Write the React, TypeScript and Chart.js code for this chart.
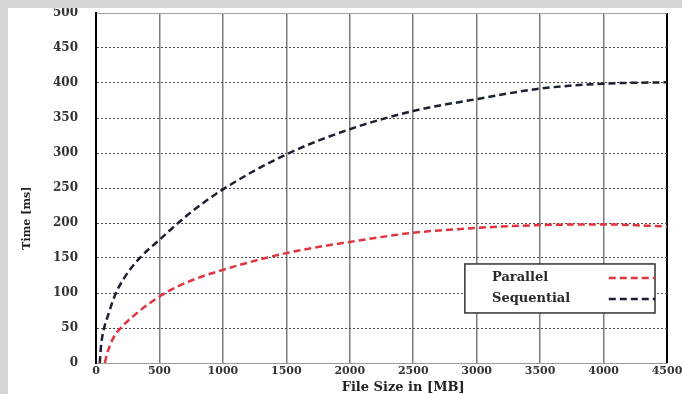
import React, { useEffect, useRef } from "react";
import { Chart, registerables } from "chart.js";

Chart.register(...registerables);

// ---- data ----
const xTickValues = [0, 500, 1000, 1500, 2000, 2500, 3000, 3500, 4000, 4500];
const yTickValues = [0, 50, 100, 150, 200, 250, 300, 350, 400, 450, 500];

const seriesLabels = ["Parallel", "Sequential"];

const parallelX = [70, 85, 108, 140, 185, 288, 500, 726, 1000, 1500, 2000, 2500, 3000, 3500, 4000, 4500];
const parallelY = [0, 12, 24, 37, 48, 66, 95, 116, 133, 157, 173, 186, 193, 197, 198, 195];

const sequentialX = [30, 40, 60, 95, 150, 224, 340, 500, 726, 1000, 1500, 2000, 2500, 3000, 3500, 4000, 4500];
const sequentialY = [0, 25, 47, 68, 97, 122, 149, 176, 212, 248, 298, 334, 360, 377, 392, 399, 401];

const xTitle = "File Size in [MB]";
const yTitle = "Time [ms]";

const SERIF = "'DejaVu Serif', 'Liberation Serif', serif";

const toPoints = (xs: number[], ys: number[]) => xs.map((x, i) => ({ x, y: ys[i] }));

const overlayPlugin = {
  id: "overlay",
  afterDraw(chart: any) {
    const { ctx, chartArea: a } = chart;
    const w = a.right - a.left;
    const h = a.bottom - a.top;
    const fx = (f: number) => a.left + w * f;
    const fy = (f: number) => a.top + h * f;

    ctx.save();
    // axis titles
    ctx.fillStyle = "#222";
    ctx.textAlign = "center";
    ctx.textBaseline = "middle";
    ctx.font = `bold 13px ${SERIF}`;
    ctx.fillText(xTitle, fx(0.538), a.bottom + 25);
    ctx.save();
    ctx.translate(19, fy(0.586));
    ctx.rotate(-Math.PI / 2);
    ctx.font = `bold 11px ${SERIF}`;
    ctx.fillText(yTitle, 0, 0);
    ctx.restore();

    // legend box
    const bx1 = fx(0.646), bx2 = fx(0.979), by1 = fy(0.717), by2 = fy(0.857);
    ctx.fillStyle = "#ffffff";
    ctx.fillRect(bx1, by1, bx2 - bx1, by2 - by1);
    ctx.strokeStyle = "#333";
    ctx.lineWidth = 1.5;
    ctx.strokeRect(bx1, by1, bx2 - bx1, by2 - by1);

    const rows = [fy(0.757), fy(0.817)];
    chart.data.datasets.forEach((ds: any, i: number) => {
      const y = rows[i];
      ctx.fillStyle = "#2a2a2a";
      ctx.textAlign = "left";
      ctx.font = `bold 13px ${SERIF}`;
      ctx.fillText(ds.label, fx(0.6935), y);
      ctx.strokeStyle = ds.borderColor;
      ctx.lineWidth = ds.borderWidth;
      ctx.setLineDash(ds.borderDash);
      ctx.beginPath();
      ctx.moveTo(fx(0.898), y);
      ctx.lineTo(bx2, y);
      ctx.stroke();
      ctx.setLineDash([]);
    });
    ctx.restore();
  },
};

export default function App() {
  const canvasRef = useRef<HTMLCanvasElement | null>(null);

  useEffect(() => {
    document.documentElement.style.overflow = "hidden";
    document.body.style.background = "#d6d6d6";
    document.body.style.margin = "8px 0 0 8px";
    const canvas = canvasRef.current;
    if (!canvas) return;
    const tickFont = { family: SERIF, size: 12, weight: "bold" as const };
    const xTickFont = { family: SERIF, size: 11, weight: "bold" as const };

    const chart = new Chart(canvas, {
      type: "line",
      data: {
        datasets: [
          {
            label: seriesLabels[0],
            data: toPoints(parallelX, parallelY),
            borderColor: "#e2343f",
            borderWidth: 2.5,
            borderDash: [7, 4],
            pointRadius: 0,
            fill: false,
            cubicInterpolationMode: "monotone",
          },
          {
            label: seriesLabels[1],
            data: toPoints(sequentialX, sequentialY),
            borderColor: "#1b2130",
            borderWidth: 2.5,
            borderDash: [7, 4],
            pointRadius: 0,
            fill: false,
            cubicInterpolationMode: "monotone",
          },
        ],
      },
      options: {
        responsive: false,
        animation: false,
        layout: { padding: { top: 5, right: 15, left: 0, bottom: 0 } },
        plugins: { legend: { display: false }, tooltip: { enabled: false } },
        scales: {
          x: {
            type: "linear",
            min: 0,
            max: 4500,
            afterBuildTicks: (s: any) => {
              s.ticks = xTickValues.map((v) => ({ value: v }));
            },
            afterFit: (s: any) => {
              s.height = 31;
              s.paddingLeft = 0;
              s.paddingRight = 0;
            },
            ticks: {
              font: xTickFont,
              color: "#333",
              padding: 2,
              maxRotation: 0,
              autoSkip: false,
              callback: (v: any) => String(v),
            },
            grid: {
              drawTicks: false,
              color: (c: any) => (c.tick && c.tick.value === 4500 ? "#000" : "#7d7d7d"),
              lineWidth: (c: any) => (c.tick && c.tick.value === 4500 ? 2 : 1.5),
            },
            border: { color: "#9a9a9a", width: 1 },
          },
          y: {
            type: "linear",
            min: 0,
            max: 500,
            afterBuildTicks: (s: any) => {
              s.ticks = yTickValues.map((v) => ({ value: v }));
            },
            afterFit: (s: any) => {
              s.width = 88;
              s.paddingTop = 0;
              s.paddingBottom = 0;
            },
            ticks: { font: tickFont, color: "#333", padding: 18, callback: (v: any) => String(v) },
            grid: {
              drawTicks: false,
              color: (c: any) =>
                c.tick && (c.tick.value === 0 || c.tick.value === 500) ? "#a0a0a0" : "#4a4a4a",
              lineWidth: 1,
            },
            border: {
              color: "#000",
              width: 2,
              dash: (c: any) =>
                c.tick && c.tick.value > 0 && c.tick.value < 500 ? [2, 2] : [],
            },
          },
        },
      },
      plugins: [overlayPlugin],
    } as any);

    return () => chart.destroy();
  }, []);

  return (
    <canvas
      ref={canvasRef}
      width={674}
      height={386}
      style={{ display: "block", background: "#ffffff" }}
    />
  );
}
